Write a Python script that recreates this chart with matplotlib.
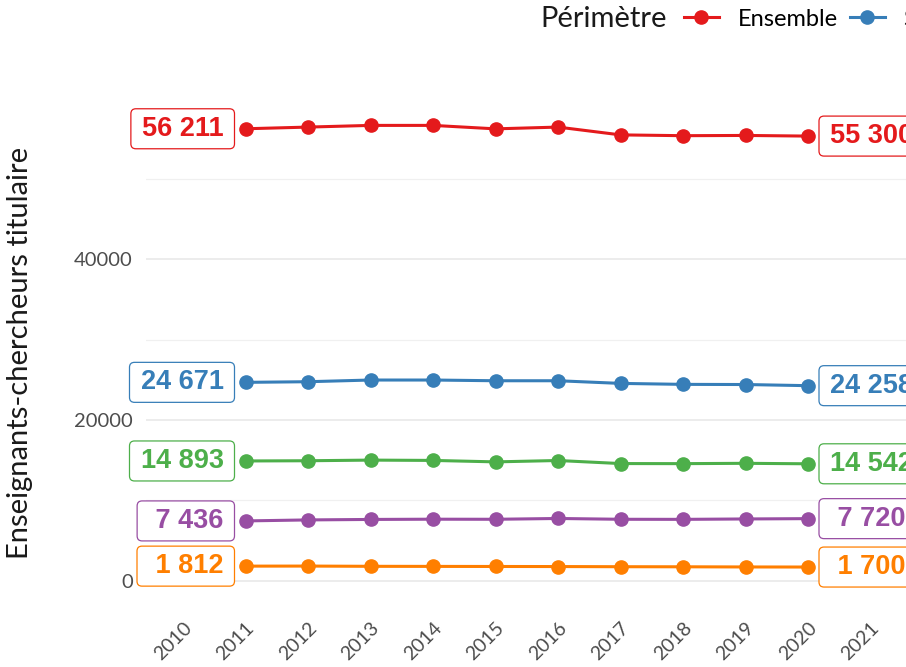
import matplotlib
matplotlib.use("Agg")
import matplotlib.pyplot as plt
from matplotlib.patches import FancyBboxPatch
from matplotlib.transforms import IdentityTransform
from matplotlib.lines import Line2D

# ---- data ----
years = [2011, 2012, 2013, 2014, 2015, 2016, 2017, 2018, 2019, 2020]
ensemble = [56211, 56420, 56630, 56630, 56200, 56420, 55450, 55350, 55380, 55300]
sciences = [24671, 24750, 24960, 24960, 24870, 24870, 24540, 24420, 24400, 24258]
lettres = [14893, 14920, 15000, 14960, 14780, 14950, 14570, 14560, 14600, 14542]
droit = [7436, 7560, 7620, 7650, 7640, 7740, 7640, 7630, 7680, 7720]
sante = [1812, 1820, 1790, 1780, 1770, 1760, 1740, 1730, 1710, 1700]
series_names = ["Ensemble", "Sciences", "Lettres", "Droit", "Santé"]
series_values = [ensemble, sciences, lettres, droit, sante]
colors = ["#E41A1C", "#377EB8", "#4DAF4A", "#984EA3", "#FF7F00"]
tick_years = list(range(2010, 2022))
ytick_vals = [0, 20000, 40000]
yminor_vals = [10000, 30000, 50000]
ylabel = "Enseignants-chercheurs titulaire"
legend_title = "Périmètre"

W, H = 906, 667
fig = plt.figure(figsize=(W / 100, H / 100), dpi=100)
left_px, right_px, top_px, bottom_px = 145.5, 908, 102, 603.5
ax = fig.add_axes([left_px / W, 1 - bottom_px / H,
                   (right_px - left_px) / W, (bottom_px - top_px) / H])
ax.set_xlim(2009.4, 2021.6)
ax.set_ylim(-2835, 59540)

for s in ax.spines.values():
    s.set_visible(False)

ax.set_yticks(ytick_vals)
ax.set_yticklabels([str(v) for v in ytick_vals])
ax.set_yticks(yminor_vals, minor=True)
ax.grid(axis="y", which="major", color="#ebebeb", lw=1.3, zorder=0)
ax.grid(axis="y", which="minor", color="#f0f0f0", lw=0.9, zorder=0)
ax.set_axisbelow(True)
ax.tick_params(axis="y", which="both", length=0, pad=9, labelsize=14.5,
               labelcolor="#4d4d4d")
for t in ax.get_yticklabels():
    t.set_family("Lato")

ax.set_xticks(tick_years)
ax.set_xticklabels([str(y) for y in tick_years], rotation=45, ha="right",
                   va="top", rotation_mode="anchor", family="Lato",
                   fontsize=14, color="#4d4d4d")
ax.tick_params(axis="x", length=0, pad=11)

ax.set_ylabel(ylabel, family="Lato", fontsize=21, color="#1a1a1a")
ax.yaxis.set_label_coords((33 - left_px) / (right_px - left_px), 0.5)

texts = []
for name, vals, c in zip(series_names, series_values, colors):
    ax.plot(years, vals, color=c, lw=2.2, marker="o", ms=9.5, zorder=3,
            solid_capstyle="round", clip_on=False)
    for xv, yv, side in [(years[0], vals[0], -1), (years[-1], vals[-1], 1)]:
        lab = f"{yv:,}".replace(",", " ").rjust(6)
        t = ax.annotate(lab, xy=(xv, yv), xytext=(side * 22, 0),
                        textcoords="offset pixels",
                        ha="right" if side < 0 else "left", va="center",
                        fontsize=19.5, fontweight="bold", color=c,
                        family="Liberation Sans", zorder=6,
                        annotation_clip=False)
        texts.append((t, c))

# legend
fig.text(540 / W, 1 - 19 / H, legend_title, family="Lato", fontsize=21,
         ha="left", va="center", color="#1a1a1a")
handles = [Line2D([], [], color=c, lw=2.2, marker="o", ms=9.5) for c in colors]
fig.legend(handles, series_names, loc="center left",
           bbox_to_anchor=(684 / W, 1 - 19 / H), ncol=5, frameon=False,
           prop={"family": "Lato", "size": 17}, handlelength=1.48,
           handletextpad=0.8, columnspacing=0.5, borderpad=0,
           borderaxespad=0)

# label boxes
fig.canvas.draw()
r = fig.canvas.get_renderer()
padx, pady = 11, 8
for t, c in texts:
    bb = t.get_window_extent(r)
    box = FancyBboxPatch((bb.x0 - padx, bb.y0 - pady + 1),
                         bb.width + 2 * padx, bb.height + 2 * pady - 2,
                         boxstyle="round,pad=0,rounding_size=5",
                         transform=IdentityTransform(), facecolor="white",
                         edgecolor=c, lw=0.9, zorder=5, clip_on=False)
    ax.add_artist(box)

fig.savefig("out.png", dpi=100)
